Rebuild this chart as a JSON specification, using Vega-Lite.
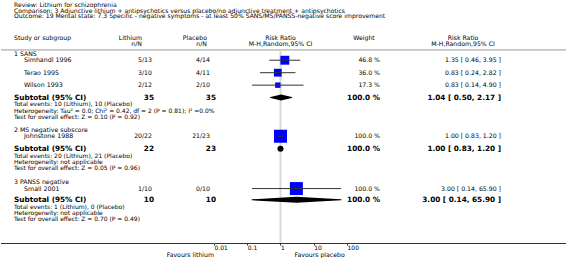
{
  "$schema": "https://vega.github.io/schema/vega-lite/v6.json",
  "padding": 0,
  "background": "white",
  "spacing": 0,
  "bounds": "flush",
  "config": {
    "view": {"stroke": null},
    "font": "DejaVu Sans",
    "text": {"font": "DejaVu Sans", "color": "#000"},
    "axis": {"labelFont": "DejaVu Sans"}
  },
  "datasets": {
    "rows": [
      {"kind": "title", "line": -7.85, "label": "Review:  Lithium for schizophrenia"},
      {"kind": "title", "line": -6.95, "label": "Comparison:  3 Adjunctive lithium + antipsychotics versus placebo/no adjunctive treatment + antipsychotics"},
      {"kind": "title", "line": -6.05, "label": "Outcome:  19 Mental state: 7.3 Specific - negative symptoms - at least 50% SANS/MS/PANSS-negative score improvement"},
      {"kind": "head", "line": -2.5, "label": "Study or subgroup", "lith": "Lithium", "plac": "Placebo", "rrh": "Risk Ratio", "wtxt": "Weight", "ci": "Risk Ratio"},
      {"kind": "head", "line": -1.6, "lith": "n/N", "plac": "n/N", "rrh": "M-H,Random,95% CI", "ci": "M-H,Random,95% CI"},
      {"kind": "group", "line": 0, "label": "1 SANS"},
      {"kind": "study", "line": 1, "label": "Simhandl 1996", "lith": "5/13", "plac": "4/14", "w": 46.8, "wtxt": "46.8 %", "est": 1.35, "lo": 0.46, "hi": 3.95, "ci": "1.35 [ 0.46, 3.95 ]"},
      {"kind": "study", "line": 3, "label": "Terao 1995", "lith": "3/10", "plac": "4/11", "w": 36.0, "wtxt": "36.0 %", "est": 0.83, "lo": 0.24, "hi": 2.82, "ci": "0.83 [ 0.24, 2.82 ]"},
      {"kind": "study", "line": 5, "label": "Wilson 1993", "lith": "2/12", "plac": "2/10", "w": 17.3, "wtxt": "17.3 %", "est": 0.83, "lo": 0.14, "hi": 4.90, "ci": "0.83 [ 0.14, 4.90 ]"},
      {"kind": "sub", "line": 7, "label": "Subtotal (95% CI)", "lith": "35", "plac": "35", "w": 100, "wtxt": "100.0 %", "est": 1.04, "lo": 0.50, "hi": 2.17, "ci": "1.04 [ 0.50, 2.17 ]"},
      {"kind": "note", "line": 8.1, "label": "Total events: 10 (Lithium), 10 (Placebo)"},
      {"kind": "note", "line": 9.1, "label": "Heterogeneity: Tau² = 0.0; Chi² = 0.42, df = 2 (P = 0.81); I² =0.0%"},
      {"kind": "note", "line": 10.1, "label": "Test for overall effect: Z = 0.10 (P = 0.92)"},
      {"kind": "group", "line": 12.2, "label": "2 MS negative subscore"},
      {"kind": "study", "line": 13.2, "label": "Johnstone 1988", "lith": "20/22", "plac": "21/23", "w": 100, "wtxt": "100.0 %", "est": 1.00, "lo": 0.83, "hi": 1.20, "ci": "1.00 [ 0.83, 1.20 ]"},
      {"kind": "sub", "line": 15.2, "label": "Subtotal (95% CI)", "lith": "22", "plac": "23", "w": 100, "wtxt": "100.0 %", "est": 1.00, "lo": 0.83, "hi": 1.20, "ci": "1.00 [ 0.83, 1.20 ]"},
      {"kind": "note", "line": 16.3, "label": "Total events: 20 (Lithium), 21 (Placebo)"},
      {"kind": "note", "line": 17.3, "label": "Heterogeneity: not applicable"},
      {"kind": "note", "line": 18.3, "label": "Test for overall effect: Z = 0.05 (P = 0.96)"},
      {"kind": "group", "line": 20.6, "label": "3 PANSS negative"},
      {"kind": "study", "line": 21.6, "label": "Small 2001", "lith": "1/10", "plac": "0/10", "w": 100, "wtxt": "100.0 %", "est": 3.00, "lo": 0.14, "hi": 65.90, "ci": "3.00 [ 0.14, 65.90 ]"},
      {"kind": "sub", "line": 23.4, "label": "Subtotal (95% CI)", "lith": "10", "plac": "10", "w": 100, "wtxt": "100.0 %", "est": 3.00, "lo": 0.14, "hi": 65.90, "ci": "3.00 [ 0.14, 65.90 ]"},
      {"kind": "note", "line": 24.5, "label": "Total events: 1 (Lithium), 0 (Placebo)"},
      {"kind": "note", "line": 25.5, "label": "Heterogeneity: not applicable"},
      {"kind": "note", "line": 26.5, "label": "Test for overall effect: Z = 0.70 (P = 0.49)"},
      {"kind": "foot", "side": "left", "label": "Favours lithium"},
      {"kind": "foot", "side": "right", "label": "Favours placebo"}
    ]
  },
  "hconcat": [
    {
      "width": 13, "height": 243,
      "layer": [
        {"data": {"values": [{}]}, "mark": {"type": "rule", "color": "#999", "strokeWidth": 1}, "encoding": {"y": {"datum": -0.65, "type": "quantitative", "axis": null, "scale": {"domain": [-8.668, 30.337], "reverse": true, "nice": false, "zero": false}}}},
        {"data": {"values": [{}]}, "mark": {"type": "rule", "color": "#333", "strokeWidth": 1, "yOffset": 0.5}, "encoding": {"y": {"value": "height"}}},
        {"data": {"name": "rows"}, "transform": [{"filter": "datum.kind == 'title'"}], "mark": {"type": "text", "align": "left", "fontSize": 6.1}, "encoding": {"x": {"value": "width"}, "y": {"field": "line", "type": "quantitative", "axis": null, "scale": {"domain": [-8.668, 30.337], "reverse": true, "nice": false, "zero": false}}, "text": {"field": "label"}}},
        {"data": {"name": "rows"}, "transform": [{"filter": "datum.kind == 'note'"}], "mark": {"type": "text", "align": "left", "fontSize": 6}, "encoding": {"x": {"value": "width"}, "y": {"field": "line", "type": "quantitative", "axis": null, "scale": {"domain": [-8.668, 30.337], "reverse": true, "nice": false, "zero": false}}, "text": {"field": "label"}}},
        {"data": {"name": "rows"}, "transform": [{"filter": "(datum.kind == 'group' || datum.kind == 'head') && isValid(datum.label)"}], "mark": {"type": "text", "align": "left", "fontSize": 6.2}, "encoding": {"x": {"value": "width"}, "y": {"field": "line", "type": "quantitative", "axis": null, "scale": {"domain": [-8.668, 30.337], "reverse": true, "nice": false, "zero": false}}, "text": {"field": "label"}}},
        {"data": {"name": "rows"}, "transform": [{"filter": "datum.kind == 'study'"}], "mark": {"type": "text", "align": "left", "fontSize": 6.3, "dx": 10}, "encoding": {"x": {"value": "width"}, "y": {"field": "line", "type": "quantitative", "axis": null, "scale": {"domain": [-8.668, 30.337], "reverse": true, "nice": false, "zero": false}}, "text": {"field": "label"}}},
        {"data": {"name": "rows"}, "transform": [{"filter": "datum.kind == 'sub'"}], "mark": {"type": "text", "align": "left", "fontSize": 7.3, "fontWeight": "bold"}, "encoding": {"x": {"value": "width"}, "y": {"field": "line", "type": "quantitative", "axis": null, "scale": {"domain": [-8.668, 30.337], "reverse": true, "nice": false, "zero": false}}, "text": {"field": "label"}}}
      ]
    },
    {
      "width": 138, "height": 243,
      "layer": [
        {"data": {"values": [{}]}, "mark": {"type": "rule", "color": "#999", "strokeWidth": 1}, "encoding": {"y": {"datum": -0.65, "type": "quantitative", "axis": null, "scale": {"domain": [-8.668, 30.337], "reverse": true, "nice": false, "zero": false}}}},
        {"data": {"values": [{}]}, "mark": {"type": "rule", "color": "#333", "strokeWidth": 1, "yOffset": 0.5}, "encoding": {"y": {"value": "height"}}},
        {"data": {"name": "rows"}, "transform": [{"filter": "datum.kind == 'head' && isValid(datum.lith)"}], "mark": {"type": "text", "align": "right", "fontSize": 6.2, "dx": -10}, "encoding": {"x": {"value": "width"}, "y": {"field": "line", "type": "quantitative", "axis": null, "scale": {"domain": [-8.668, 30.337], "reverse": true, "nice": false, "zero": false}}, "text": {"field": "lith"}}},
        {"data": {"name": "rows"}, "transform": [{"filter": "datum.kind == 'study'"}], "mark": {"type": "text", "align": "right", "fontSize": 6.2}, "encoding": {"x": {"value": "width"}, "y": {"field": "line", "type": "quantitative", "axis": null, "scale": {"domain": [-8.668, 30.337], "reverse": true, "nice": false, "zero": false}}, "text": {"field": "lith"}}},
        {"data": {"name": "rows"}, "transform": [{"filter": "datum.kind == 'sub'"}], "mark": {"type": "text", "align": "right", "fontSize": 7.3, "fontWeight": "bold", "dx": 2}, "encoding": {"x": {"value": "width"}, "y": {"field": "line", "type": "quantitative", "axis": null, "scale": {"domain": [-8.668, 30.337], "reverse": true, "nice": false, "zero": false}}, "text": {"field": "lith"}}}
      ]
    },
    {
      "width": 58, "height": 243,
      "layer": [
        {"data": {"values": [{}]}, "mark": {"type": "rule", "color": "#999", "strokeWidth": 1}, "encoding": {"y": {"datum": -0.65, "type": "quantitative", "axis": null, "scale": {"domain": [-8.668, 30.337], "reverse": true, "nice": false, "zero": false}}}},
        {"data": {"values": [{}]}, "mark": {"type": "rule", "color": "#333", "strokeWidth": 1, "yOffset": 0.5}, "encoding": {"y": {"value": "height"}}},
        {"data": {"name": "rows"}, "transform": [{"filter": "datum.kind == 'head' && isValid(datum.plac)"}], "mark": {"type": "text", "align": "right", "fontSize": 6.2, "dx": -3}, "encoding": {"x": {"value": "width"}, "y": {"field": "line", "type": "quantitative", "axis": null, "scale": {"domain": [-8.668, 30.337], "reverse": true, "nice": false, "zero": false}}, "text": {"field": "plac"}}},
        {"data": {"name": "rows"}, "transform": [{"filter": "datum.kind == 'study'"}], "mark": {"type": "text", "align": "right", "fontSize": 6.2}, "encoding": {"x": {"value": "width"}, "y": {"field": "line", "type": "quantitative", "axis": null, "scale": {"domain": [-8.668, 30.337], "reverse": true, "nice": false, "zero": false}}, "text": {"field": "plac"}}},
        {"data": {"name": "rows"}, "transform": [{"filter": "datum.kind == 'sub'"}], "mark": {"type": "text", "align": "right", "fontSize": 7.3, "fontWeight": "bold", "dx": 6}, "encoding": {"x": {"value": "width"}, "y": {"field": "line", "type": "quantitative", "axis": null, "scale": {"domain": [-8.668, 30.337], "reverse": true, "nice": false, "zero": false}}, "text": {"field": "plac"}}}
      ]
    },
    {
      "width": 4, "height": 243,
      "layer": [
        {"data": {"values": [{}]}, "mark": {"type": "rule", "color": "#999", "strokeWidth": 1}, "encoding": {"y": {"datum": -0.65, "type": "quantitative", "axis": null, "scale": {"domain": [-8.668, 30.337], "reverse": true, "nice": false, "zero": false}}}},
        {"data": {"values": [{}]}, "mark": {"type": "rule", "color": "#333", "strokeWidth": 1, "yOffset": 0.5}, "encoding": {"y": {"value": "height"}}}
      ]
    },
    {
      "width": 133, "height": 243,
      "resolve": {"scale": {"size": "independent"}},
      "layer": [
        {"data": {"values": [{}]}, "mark": {"type": "rule", "color": "#999", "strokeWidth": 1}, "encoding": {"y": {"datum": -0.65, "type": "quantitative", "axis": null, "scale": {"domain": [-8.668, 30.337], "reverse": true, "nice": false, "zero": false}}}},
        {"data": {"values": [{}]}, "mark": {"type": "rule", "color": "#d9d9d9", "strokeWidth": 2},
         "encoding": {
           "x": {"datum": 1, "type": "quantitative", "scale": {"type": "log", "domain": [0.01, 100], "nice": false}, "axis": {"values": [0.01, 0.1, 1, 10, 100], "format": "~g", "labelAlign": "left", "labelFontSize": 6, "labelColor": "#000", "tickSize": 2, "tickColor": "#333", "domainColor": "#333", "grid": false, "title": null, "labelPadding": -0.5, "labelFlush": false, "labelOverlap": false}},
           "y": {"datum": -0.65, "type": "quantitative", "axis": null, "scale": {"domain": [-8.668, 30.337], "reverse": true, "nice": false, "zero": false}},
           "y2": {"datum": 30.337}
         }},
        {"data": {"name": "rows"}, "transform": [{"filter": "datum.kind == 'study'"}], "mark": {"type": "point", "shape": "square", "filled": true, "color": "#0000ff", "opacity": 1},
         "encoding": {
           "x": {"field": "est", "type": "quantitative", "scale": {"type": "log", "domain": [0.01, 100], "nice": false}, "axis": {"values": [0.01, 0.1, 1, 10, 100], "format": "~g", "labelAlign": "left", "labelFontSize": 6, "labelColor": "#000", "tickSize": 2, "tickColor": "#333", "domainColor": "#333", "grid": false, "title": null, "labelPadding": -0.5, "labelFlush": false, "labelOverlap": false}},
           "y": {"field": "line", "type": "quantitative", "axis": null, "scale": {"domain": [-8.668, 30.337], "reverse": true, "nice": false, "zero": false}},
           "size": {"field": "w", "type": "quantitative", "scale": {"domain": [0, 100], "range": [0, 169], "zero": true}, "legend": null}
         }},
        {"data": {"name": "rows"}, "transform": [{"filter": "datum.kind == 'study'"}], "mark": {"type": "rule", "color": "#333", "strokeWidth": 1},
         "encoding": {
           "x": {"field": "lo", "type": "quantitative", "scale": {"type": "log", "domain": [0.01, 100], "nice": false}, "axis": {"values": [0.01, 0.1, 1, 10, 100], "format": "~g", "labelAlign": "left", "labelFontSize": 6, "labelColor": "#000", "tickSize": 2, "tickColor": "#333", "domainColor": "#333", "grid": false, "title": null, "labelPadding": -0.5, "labelFlush": false, "labelOverlap": false}},
           "x2": {"field": "hi"},
           "y": {"field": "line", "type": "quantitative", "axis": null, "scale": {"domain": [-8.668, 30.337], "reverse": true, "nice": false, "zero": false}}
         }},
        {"data": {"name": "rows"}, "transform": [{"filter": "datum.kind == 'sub'"}, {"fold": ["lo", "est", "hi"], "as": ["k", "v"]}], "mark": {"type": "trail", "color": "#000"},
         "encoding": {
           "x": {"field": "v", "type": "quantitative", "scale": {"type": "log", "domain": [0.01, 100], "nice": false}, "axis": {"values": [0.01, 0.1, 1, 10, 100], "format": "~g", "labelAlign": "left", "labelFontSize": 6, "labelColor": "#000", "tickSize": 2, "tickColor": "#333", "domainColor": "#333", "grid": false, "title": null, "labelPadding": -0.5, "labelFlush": false, "labelOverlap": false}},
           "y": {"field": "line", "type": "quantitative", "axis": null, "scale": {"domain": [-8.668, 30.337], "reverse": true, "nice": false, "zero": false}},
           "detail": {"field": "line", "type": "quantitative"},
           "order": {"field": "v", "type": "quantitative"},
           "size": {"field": "k", "type": "ordinal", "scale": {"type": "ordinal", "domain": ["lo", "est", "hi"], "range": [0, 6, 0]}, "legend": null}
         }},
        {"data": {"name": "rows"}, "transform": [{"filter": "datum.kind == 'head' && isValid(datum.rrh)"}], "mark": {"type": "text", "align": "center", "fontSize": 6.2},
         "encoding": {
           "x": {"datum": 1, "type": "quantitative", "scale": {"type": "log", "domain": [0.01, 100], "nice": false}, "axis": {"values": [0.01, 0.1, 1, 10, 100], "format": "~g", "labelAlign": "left", "labelFontSize": 6, "labelColor": "#000", "tickSize": 2, "tickColor": "#333", "domainColor": "#333", "grid": false, "title": null, "labelPadding": -0.5, "labelFlush": false, "labelOverlap": false}},
           "y": {"field": "line", "type": "quantitative", "axis": null, "scale": {"domain": [-8.668, 30.337], "reverse": true, "nice": false, "zero": false}},
           "text": {"field": "rrh"}
         }},
        {"data": {"name": "rows"}, "transform": [{"filter": "datum.kind == 'foot' && datum.side == 'left'"}], "mark": {"type": "text", "align": "right", "fontSize": 6.2, "dy": 11.5},
         "encoding": {
           "x": {"datum": 0.01, "type": "quantitative", "scale": {"type": "log", "domain": [0.01, 100], "nice": false}, "axis": {"values": [0.01, 0.1, 1, 10, 100], "format": "~g", "labelAlign": "left", "labelFontSize": 6, "labelColor": "#000", "tickSize": 2, "tickColor": "#333", "domainColor": "#333", "grid": false, "title": null, "labelPadding": -0.5, "labelFlush": false, "labelOverlap": false}},
           "y": {"value": "height"},
           "text": {"field": "label"}
         }},
        {"data": {"name": "rows"}, "transform": [{"filter": "datum.kind == 'foot' && datum.side == 'right'"}], "mark": {"type": "text", "align": "left", "fontSize": 6.2, "dx": 14, "dy": 11.5},
         "encoding": {
           "x": {"datum": 1, "type": "quantitative", "scale": {"type": "log", "domain": [0.01, 100], "nice": false}, "axis": {"values": [0.01, 0.1, 1, 10, 100], "format": "~g", "labelAlign": "left", "labelFontSize": 6, "labelColor": "#000", "tickSize": 2, "tickColor": "#333", "domainColor": "#333", "grid": false, "title": null, "labelPadding": -0.5, "labelFlush": false, "labelOverlap": false}},
           "y": {"value": "height"},
           "text": {"field": "label"}
         }}
      ]
    },
    {
      "width": 33, "height": 243,
      "layer": [
        {"data": {"values": [{}]}, "mark": {"type": "rule", "color": "#999", "strokeWidth": 1}, "encoding": {"y": {"datum": -0.65, "type": "quantitative", "axis": null, "scale": {"domain": [-8.668, 30.337], "reverse": true, "nice": false, "zero": false}}}},
        {"data": {"values": [{}]}, "mark": {"type": "rule", "color": "#333", "strokeWidth": 1, "yOffset": 0.5}, "encoding": {"y": {"value": "height"}}},
        {"data": {"name": "rows"}, "transform": [{"filter": "datum.kind == 'head' && isValid(datum.wtxt)"}], "mark": {"type": "text", "align": "center", "fontSize": 6.2, "dx": -16}, "encoding": {"x": {"value": "width"}, "y": {"field": "line", "type": "quantitative", "axis": null, "scale": {"domain": [-8.668, 30.337], "reverse": true, "nice": false, "zero": false}}, "text": {"field": "wtxt"}}},
        {"data": {"name": "rows"}, "transform": [{"filter": "datum.kind == 'study'"}], "mark": {"type": "text", "align": "right", "fontSize": 6.2}, "encoding": {"x": {"value": "width"}, "y": {"field": "line", "type": "quantitative", "axis": null, "scale": {"domain": [-8.668, 30.337], "reverse": true, "nice": false, "zero": false}}, "text": {"field": "wtxt"}}},
        {"data": {"name": "rows"}, "transform": [{"filter": "datum.kind == 'sub'"}], "mark": {"type": "text", "align": "right", "fontSize": 7.3, "fontWeight": "bold"}, "encoding": {"x": {"value": "width"}, "y": {"field": "line", "type": "quantitative", "axis": null, "scale": {"domain": [-8.668, 30.337], "reverse": true, "nice": false, "zero": false}}, "text": {"field": "wtxt"}}}
      ]
    },
    {
      "width": 121, "height": 243,
      "layer": [
        {"data": {"values": [{}]}, "mark": {"type": "rule", "color": "#999", "strokeWidth": 1}, "encoding": {"y": {"datum": -0.65, "type": "quantitative", "axis": null, "scale": {"domain": [-8.668, 30.337], "reverse": true, "nice": false, "zero": false}}}},
        {"data": {"values": [{}]}, "mark": {"type": "rule", "color": "#333", "strokeWidth": 1, "yOffset": 0.5}, "encoding": {"y": {"value": "height"}}},
        {"data": {"name": "rows"}, "transform": [{"filter": "datum.kind == 'head' && isValid(datum.ci)"}], "mark": {"type": "text", "align": "center", "fontSize": 6.2, "dx": -38}, "encoding": {"x": {"value": "width"}, "y": {"field": "line", "type": "quantitative", "axis": null, "scale": {"domain": [-8.668, 30.337], "reverse": true, "nice": false, "zero": false}}, "text": {"field": "ci"}}},
        {"data": {"name": "rows"}, "transform": [{"filter": "datum.kind == 'study'"}], "mark": {"type": "text", "align": "right", "fontSize": 6.2}, "encoding": {"x": {"value": "width"}, "y": {"field": "line", "type": "quantitative", "axis": null, "scale": {"domain": [-8.668, 30.337], "reverse": true, "nice": false, "zero": false}}, "text": {"field": "ci"}}},
        {"data": {"name": "rows"}, "transform": [{"filter": "datum.kind == 'sub'"}], "mark": {"type": "text", "align": "right", "fontSize": 7.3, "fontWeight": "bold"}, "encoding": {"x": {"value": "width"}, "y": {"field": "line", "type": "quantitative", "axis": null, "scale": {"domain": [-8.668, 30.337], "reverse": true, "nice": false, "zero": false}}, "text": {"field": "ci"}}}
      ]
    },
    {
      "width": 66, "height": 243,
      "layer": [
        {"data": {"values": [{}]}, "mark": {"type": "rule", "color": "#999", "strokeWidth": 1}, "encoding": {"y": {"datum": -0.65, "type": "quantitative", "axis": null, "scale": {"domain": [-8.668, 30.337], "reverse": true, "nice": false, "zero": false}}}},
        {"data": {"values": [{}]}, "mark": {"type": "rule", "color": "#333", "strokeWidth": 1, "yOffset": 0.5}, "encoding": {"y": {"value": "height"}}}
      ]
    }
  ]
}
